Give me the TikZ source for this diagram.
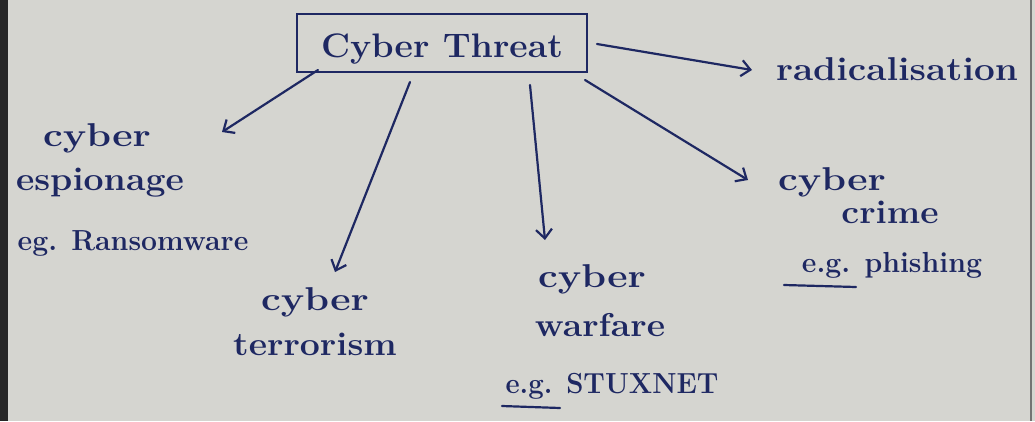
\documentclass[tikz,border=0pt]{standalone}
\usepackage{graphicx}
\usetikzlibrary{arrows.meta}
\definecolor{ink}{HTML}{1E2862}
\definecolor{paper}{HTML}{D5D5D0}
\newcommand{\hw}[1]{\scalebox{1.08}[1]{#1}}
\tikzset{
  hand/.style={text=ink, inner sep=0pt, font=\fontsize{33}{36}\selectfont\bfseries, anchor=base},
  small/.style={font=\fontsize{29}{32}\selectfont\bfseries},
  arr/.style={draw=ink, line width=2.2pt, line cap=round, -{Straight Barb[length=9pt,width=16pt,line width=2.2pt]}},
  uline/.style={draw=ink, line width=2.2pt, line cap=round}
}
\begin{document}
\begin{tikzpicture}[x=1pt,y=-1pt]
\fill[paper] (0,0) rectangle (1035,421);
\useasboundingbox (0,0) rectangle (1035,421);
\fill[black!85] (0,0) rectangle (8,421);
\draw[black!55, line width=2pt] (1031,0) -- (1031,421);

% central box
\node[draw=ink, line width=2.2pt, minimum width=290pt, minimum height=58pt, inner sep=0pt] (threat) at (442,43) {};
\node[hand, font=\fontsize{34}{37}\selectfont\bfseries] (threattext) at (442,57) {\scalebox{1.05}[1]{Cyber Threat}};

% radicalisation
\node[hand] (rad) at (897,80) {\scalebox{1.12}[1]{radicalisation}};

% espionage
\node[hand] (espA) at (97,146) {\scalebox{1.2}[1]{cyber}};
\node[hand] (espB) at (100,190) {\hw{espionage}};
\node[hand, small] (espC) at (133,250) {\scalebox{0.98}[1]{eg. Ransomware}};

% terrorism
\node[hand] (terA) at (315,310) {\scalebox{1.2}[1]{cyber}};
\node[hand] (terB) at (315,355) {\hw{terrorism}};

% warfare
\node[hand] (warA) at (592,287) {\scalebox{1.2}[1]{cyber}};
\node[hand] (warB) at (600,336) {\hw{warfare}};
\node[hand, small] (warC) at (612,393) {\scalebox{0.95}[1]{e.g. STUXNET}};
\draw[uline] (502,406) -- (560,408);

% crime
\node[hand] (crA) at (832,190) {\scalebox{1.2}[1]{cyber}};
\node[hand] (crB) at (890,223) {\hw{crime}};
\node[hand, small] (crC) at (892,272) {\scalebox{0.98}[1]{e.g. phishing}};
\draw[uline] (784,285) -- (856,287);

% connector end points
\coordinate (radS) at (597,44);
\coordinate (radE) at (752,70);
\coordinate (espS) at (318,70);
\coordinate (espE) at (222,132);
\coordinate (terS) at (410,82);
\coordinate (terE) at (335,272);
\coordinate (warS) at (530,85);
\coordinate (warE) at (545,240);
\coordinate (crS) at (585,80);
\coordinate (crE) at (748,180);

\draw[arr] (radS) -- (radE);
\draw[arr] (espS) -- (espE);
\draw[arr] (terS) -- (terE);
\draw[arr] (warS) -- (warE);
\draw[arr] (crS) -- (crE);
\end{tikzpicture}
\end{document}
